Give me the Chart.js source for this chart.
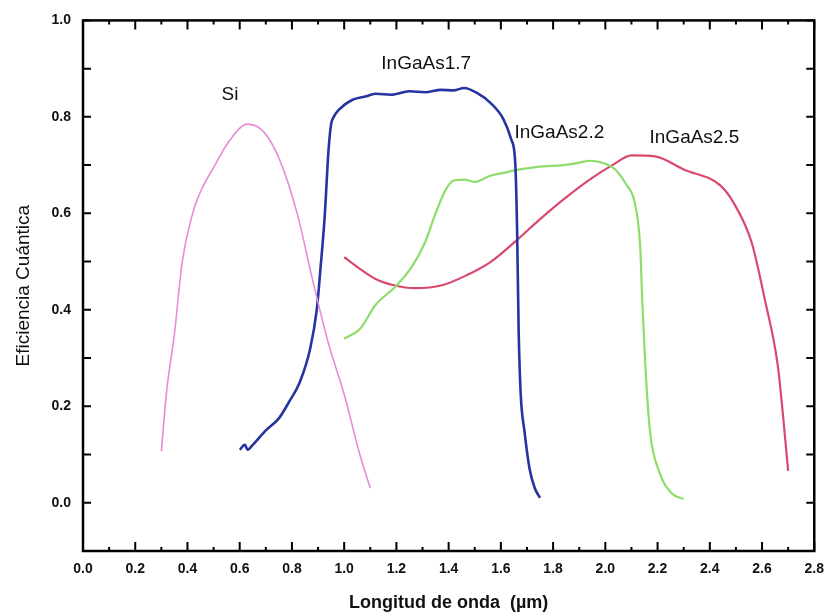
<!DOCTYPE html>
<html>
<head>
<meta charset="utf-8">
<script src="https://cdn.jsdelivr.net/npm/chart.js@4/dist/chart.umd.min.js"></script>
<style>
  html, body { margin: 0; padding: 0; background: #fff; }
  #c { display: block; }
</style>
</head>
<body>
<canvas id="c" width="834" height="614"></canvas>
<script>
// ---- data ----
const xTicks = [0.0, 0.2, 0.4, 0.6, 0.8, 1.0, 1.2, 1.4, 1.6, 1.8, 2.0, 2.2, 2.4, 2.6, 2.8];
const yTicks = [0.0, 0.2, 0.4, 0.6, 0.8, 1.0];

const siX = [0.30, 0.32, 0.35, 0.38, 0.42, 0.45, 0.50, 0.56, 0.63, 0.69, 0.75, 0.82, 0.88, 0.94, 1.00, 1.06, 1.10];
const siY = [0.107, 0.23, 0.35, 0.50, 0.60, 0.645, 0.695, 0.75, 0.785, 0.77, 0.715, 0.60, 0.46, 0.33, 0.225, 0.10, 0.03];

const in17X = [0.60, 0.62, 0.63, 0.65, 0.70, 0.75, 0.79, 0.83, 0.87, 0.895, 0.91, 0.925, 0.94, 0.95, 0.96, 0.98, 1.03, 1.08, 1.12, 1.18, 1.25, 1.31, 1.37, 1.42, 1.46, 1.51, 1.56, 1.61, 1.64, 1.655, 1.662, 1.668, 1.676, 1.69, 1.71, 1.73, 1.75];
const in17Y = [0.11, 0.12, 0.11, 0.12, 0.15, 0.175, 0.21, 0.25, 0.32, 0.40, 0.49, 0.59, 0.73, 0.785, 0.80, 0.815, 0.835, 0.842, 0.848, 0.846, 0.853, 0.851, 0.856, 0.855, 0.86, 0.849, 0.829, 0.795, 0.753, 0.705, 0.57, 0.36, 0.225, 0.15, 0.07, 0.03, 0.01];

const in22X = [1.00, 1.06, 1.12, 1.20, 1.26, 1.31, 1.35, 1.39, 1.42, 1.46, 1.50, 1.56, 1.62, 1.66, 1.75, 1.84, 1.90, 1.94, 2.00, 2.04, 2.08, 2.115, 2.134, 2.141, 2.153, 2.171, 2.205, 2.255, 2.30];
const in22Y = [0.34, 0.36, 0.41, 0.45, 0.49, 0.54, 0.60, 0.65, 0.668, 0.67, 0.665, 0.678, 0.685, 0.69, 0.697, 0.70, 0.705, 0.709, 0.703, 0.69, 0.66, 0.616, 0.526, 0.423, 0.286, 0.148, 0.066, 0.019, 0.008];

const in25X = [1.00, 1.06, 1.12, 1.19, 1.27, 1.375, 1.47, 1.56, 1.66, 1.75, 1.84, 1.94, 2.03, 2.10, 2.19, 2.30, 2.44, 2.49, 2.56, 2.61, 2.66, 2.68, 2.70];
const in25Y = [0.509, 0.485, 0.464, 0.451, 0.445, 0.451, 0.472, 0.499, 0.544, 0.588, 0.629, 0.67, 0.701, 0.72, 0.718, 0.691, 0.658, 0.623, 0.54, 0.423, 0.286, 0.183, 0.066];

const seriesNames = ['Si', 'InGaAs1.7', 'InGaAs2.2', 'InGaAs2.5'];
const labelAnchorX = [0.563, 1.314, 1.824, 2.341];
const labelAnchorY = [0.845, 0.911, 0.767, 0.757];

// ---- chart ----
const toPts = (xs, ys) => xs.map((x, i) => ({ x: x, y: ys[i] }));
const colors = ['#e68cd9', '#2535a0', '#8edc6a', '#d9496c'];
const widths = [1.6, 2.6, 2.2, 2.2];
const allData = [toPts(siX, siY), toPts(in17X, in17Y), toPts(in22X, in22Y), toPts(in25X, in25Y)];

const frameAndLabels = {
  id: 'frameAndLabels',
  afterDatasetsDraw(chart) {
    const { ctx, chartArea: { left, right, top, bottom }, scales: { x, y } } = chart;
    ctx.save();
    // curve labels
    ctx.fillStyle = '#111';
    ctx.font = '19px "Liberation Sans", Arial, sans-serif';
    ctx.textAlign = 'center';
    ctx.textBaseline = 'middle';
    seriesNames.forEach((n, i) => {
      ctx.fillText(n, x.getPixelForValue(labelAnchorX[i]), y.getPixelForValue(labelAnchorY[i]));
    });
    // frame
    ctx.strokeStyle = '#000';
    ctx.lineWidth = 2.5;
    ctx.strokeRect(left, top, right - left, bottom - top);
    // inward ticks
    ctx.lineWidth = 2;
    for (let k = 0; k <= 28; k++) {
      const v = k / 10;
      const px = x.getPixelForValue(v);
      const len = (k % 2 === 0) ? 9 : 4;
      ctx.beginPath();
      ctx.moveTo(px, bottom); ctx.lineTo(px, bottom - len);
      ctx.moveTo(px, top); ctx.lineTo(px, top + len);
      ctx.stroke();
    }
    for (let k = -1; k <= 10; k++) {
      const py = y.getPixelForValue(k / 10);
      ctx.beginPath();
      ctx.moveTo(left, py); ctx.lineTo(left + 8, py);
      ctx.moveTo(right, py); ctx.lineTo(right - 8, py);
      ctx.stroke();
    }
    ctx.restore();
  }
};

new Chart(document.getElementById('c'), {
  type: 'line',
  data: {
    datasets: allData.map((d, i) => ({
      label: seriesNames[i],
      data: d,
      borderColor: colors[i],
      borderWidth: widths[i],
      pointRadius: 0,
      fill: false,
      cubicInterpolationMode: 'monotone'
    }))
  },
  options: {
    responsive: false,
    animation: false,
    devicePixelRatio: 1,
    layout: { padding: { top: 17, right: 10, left: 0, bottom: 0 } },
    plugins: { legend: { display: false }, tooltip: { enabled: false } },
    scales: {
      x: {
        type: 'linear',
        min: 0, max: 2.8,
        afterBuildTicks: s => { s.ticks = xTicks.map(v => ({ value: v })); },
        afterFit: s => { s.height = 63; },
        grid: { display: false, drawTicks: false },
        border: { display: false },
        ticks: {
          padding: 10,
          maxRotation: 0,
          autoSkip: false,
          color: '#111',
          font: { family: '"Liberation Sans", Arial, sans-serif', size: 14, weight: 'bold' },
          callback: v => Number(v).toFixed(1)
        },
        title: {
          display: true,
          text: 'Longitud de onda  (µm)',
          color: '#111',
          padding: { top: 0, bottom: 0 },
          font: { family: '"Liberation Sans", Arial, sans-serif', size: 18, weight: 'bold' }
        }
      },
      y: {
        type: 'linear',
        min: -0.1, max: 1.0,
        afterBuildTicks: s => { s.ticks = yTicks.map(v => ({ value: v })); },
        afterFit: s => { s.width = 83; },
        grid: { display: false, drawTicks: false },
        border: { display: false },
        ticks: {
          padding: 12,
          autoSkip: false,
          color: '#111',
          font: { family: '"Liberation Sans", Arial, sans-serif', size: 14, weight: 'bold' },
          callback: v => Number(v).toFixed(1)
        },
        title: {
          display: true,
          text: 'Eficiencia Cuántica',
          color: '#111',
          padding: { top: 12, bottom: 0 },
          font: { family: '"Liberation Sans", Arial, sans-serif', size: 19, weight: 'normal' }
        }
      }
    }
  },
  plugins: [frameAndLabels]
});
</script>
</body>
</html>
